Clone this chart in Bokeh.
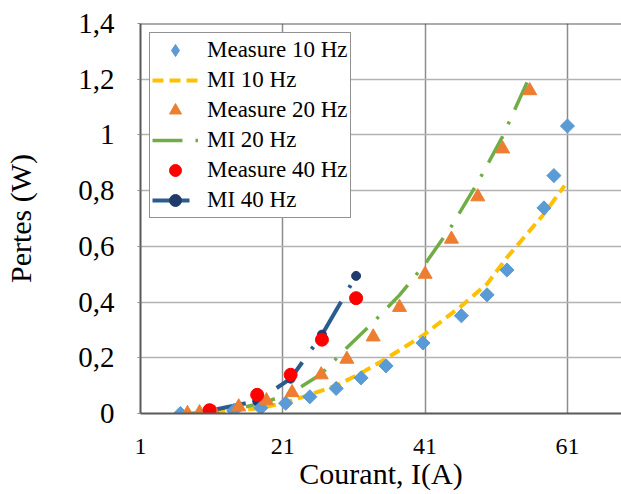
import numpy as np
from bokeh.plotting import figure
from bokeh.models import Range1d, FixedTicker, Legend, LegendItem, Span, Title
from bokeh.embed import file_html
from bokeh.resources import INLINE

# ---------------- data ----------------
meas10_x = [6.6, 10.5, 14.1, 17.9, 21.4, 24.8, 28.5, 32.0, 35.5, 40.7, 46.1, 49.7, 52.5, 57.7, 59.1, 61.0]
meas10_y = [0.0, 0.003, 0.01, 0.02, 0.037, 0.06, 0.09, 0.128, 0.171, 0.253, 0.351, 0.426, 0.515, 0.738, 0.854, 1.032]

mi10_x = [6.6, 10.5, 14.1, 17.9, 21.4, 24.8, 28.5, 32.0, 35.5, 40.7, 46.1, 49.7, 52.5, 57.7, 60.6]
mi10_y = [0.0, 0.004, 0.01, 0.02, 0.039, 0.068, 0.1, 0.145, 0.197, 0.28, 0.386, 0.465, 0.56, 0.716, 0.818]

meas20_x = [7.6, 9.3, 11.4, 14.8, 18.7, 22.3, 26.4, 30.0, 33.7, 37.4, 41.0, 44.7, 48.4, 51.9, 55.7]
meas20_y = [0.0, 0.003, 0.002, 0.024, 0.046, 0.075, 0.139, 0.195, 0.275, 0.381, 0.5, 0.626, 0.778, 0.95, 1.159]

mi20_x = [7.6, 9.3, 11.4, 14.8, 18.7, 22.3, 26.4, 30.0, 33.7, 37.4, 41.0, 44.7, 48.4, 51.9, 56.0]
mi20_y = [0.0, 0.003, 0.008, 0.018, 0.042, 0.075, 0.142, 0.236, 0.327, 0.425, 0.537, 0.672, 0.829, 0.995, 1.227]

meas40_x = [10.7, 17.4, 22.1, 26.5, 31.3]
meas40_y = [0.012, 0.067, 0.139, 0.265, 0.414]

mi40_x = [10.7, 17.4, 22.1, 26.5, 31.3]
mi40_y = [0.01, 0.045, 0.125, 0.283, 0.494]

x_ticks = [1, 21, 41, 61]
y_ticks = [0, 0.2, 0.4, 0.6, 0.8, 1, 1.2, 1.4]
y_tick_labels = ["0", "0,2", "0,4", "0,6", "0,8", "1", "1,2", "1,4"]

x_title = "Courant, I(A)"
y_title = "Pertes (W)"
labels = ["Measure 10 Hz", "MI 10 Hz", "Measure 20 Hz", "MI 20 Hz", "Measure 40 Hz", "MI 40 Hz"]

FONT = "Liberation Serif"

# ---------------- figure ----------------
p = figure(width=621, height=494, output_backend="svg", toolbar_location=None,
           x_range=Range1d(1, 68.6), y_range=Range1d(0, 1.4),
           min_border_left=140, min_border_top=23, min_border_right=0, min_border_bottom=81)
p.outline_line_color = None
p.background_fill_color = "white"
p.border_fill_color = "white"

# axes
p.xaxis.ticker = FixedTicker(ticks=x_ticks)
p.yaxis.ticker = FixedTicker(ticks=y_ticks)
p.yaxis.major_label_overrides = {t: l for t, l in zip(y_ticks, y_tick_labels)}

for ax in (p.xaxis[0], p.yaxis[0]):
    ax.axis_line_color = "#595959"
    ax.axis_line_width = 2
    ax.major_label_text_font = FONT
    ax.major_label_text_color = "black"
    ax.minor_tick_in = 0
    ax.minor_tick_out = 0
    ax.major_tick_in = 0
    ax.major_tick_line_color = "#8c8c8c"

p.xaxis.major_tick_out = 0
p.xaxis.major_label_text_font_size = "24px"
p.xaxis.major_label_standoff = 25
p.xaxis.axis_label = x_title
p.xaxis.axis_label_text_font = FONT
p.xaxis.axis_label_text_font_size = "30px"
p.xaxis.axis_label_text_font_style = "normal"
p.xaxis.axis_label_text_color = "black"
p.xaxis.axis_label_standoff = 0

p.yaxis.major_tick_out = 3
p.yaxis.major_label_text_font_size = "29px"
p.yaxis.major_label_standoff = 23
# blank spacer label: widens the axis panel so the title sits near the left edge
p.yaxis.axis_label = " "
p.yaxis.axis_label_text_font_size = "1px"
p.yaxis.axis_label_standoff = 35

# grid
p.xgrid.grid_line_color = "#8c8c8c"
p.xgrid.grid_line_width = 1.5
p.ygrid.grid_line_color = "#b3b3b3"
p.ygrid.grid_line_width = 1.5

# top border of plot area
p.add_layout(Span(location=1.4, dimension="width", line_color="#595959", line_width=2))

# y title, shifted upward like in the original
p.add_layout(Title(text=y_title, align="center", vertical_align="bottom", offset=44, standoff=0,
                   text_font=FONT, text_font_size="30px", text_font_style="normal",
                   text_color="black"), "left")

# ---------------- series ----------------
l10 = p.line(mi10_x, mi10_y, line_color="#FFC000", line_width=4, line_dash="11 6")
l20 = p.line(mi20_x, mi20_y, line_color="#70AD47", line_width=3.5, line_dash="30 13 3 13")
l40 = p.line(mi40_x, mi40_y, line_color="#2B5C8F", line_width=4, line_dash="37 16 3 16")
m40 = p.scatter(mi40_x, mi40_y, marker="circle", size=9, fill_color="#203A6B", line_color="#203A6B")

# diamond swatch for the legend (legend glyphs ignore marker angle); hidden under the squares
d10 = p.scatter(meas10_x, meas10_y, marker="diamond", size=10,
                fill_color="#5B9BD5", line_color="#5B9BD5")
s10 = p.scatter(meas10_x, meas10_y, marker="square", angle=np.pi / 4, size=10,
                fill_color="#5B9BD5", line_color="#5B9BD5")
s20 = p.scatter(meas20_x, meas20_y, marker="triangle", size=14,
                fill_color="#ED7D31", line_color="#ED7D31")
s40 = p.scatter(meas40_x, meas40_y, marker="circle", size=13,
                fill_color="#FF0000", line_color="#FF0000")

legend = Legend(items=[
    LegendItem(label=labels[0], renderers=[d10]),
    LegendItem(label=labels[1], renderers=[l10]),
    LegendItem(label=labels[2], renderers=[s20]),
    LegendItem(label=labels[3], renderers=[l20]),
    LegendItem(label=labels[4], renderers=[s40]),
    LegendItem(label=labels[5], renderers=[l40, m40]),
], location="top_left")
legend.margin = 9
legend.padding = 2
legend.spacing = 0
legend.label_height = 30
legend.glyph_height = 30
legend.glyph_width = 46
legend.label_standoff = 9
legend.label_text_font = FONT
legend.label_text_font_size = "23px"
legend.label_text_color = "black"
legend.border_line_color = "#262626"
legend.border_line_width = 1.5
legend.background_fill_color = "white"
legend.background_fill_alpha = 1.0
p.add_layout(legend)

open("out.html", "w").write(file_html(p, INLINE))
